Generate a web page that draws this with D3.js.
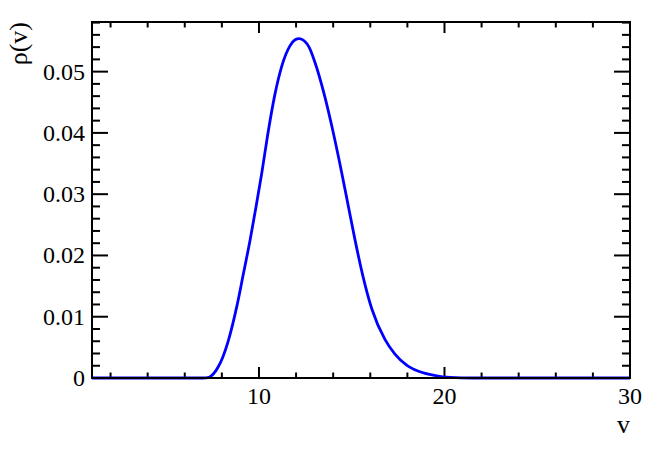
<!DOCTYPE html>
<html>
<head>
<meta charset="utf-8">
<script src="https://cdn.jsdelivr.net/npm/d3@7"></script>
<style>
  body { margin: 0; background: #fff; }
  text { font-family: "Liberation Serif", "DejaVu Serif", serif; fill: #000; }
</style>
</head>
<body>
<svg id="chart" width="664" height="450"></svg>
<script>
// curve points
var vValues   = [1, 7.0, 7.3, 7.55, 7.8, 8.05, 8.35, 8.80, 9.16, 9.52, 9.84, 10.15, 10.45, 10.84, 11.23, 11.67, 11.95, 12.17, 12.45, 12.7, 13.02, 13.56, 13.92, 14.46, 14.82, 15.18, 15.59, 16.08, 16.79, 17.33, 17.96, 18.6, 19.5, 20.3, 21.5, 30];
var rhoValues = [0, 0, 0.0001, 0.0007, 0.0018, 0.0034, 0.0061, 0.0116, 0.0170, 0.0225, 0.0279, 0.0334, 0.0393, 0.0460, 0.0509, 0.0542, 0.0552, 0.0554, 0.0550, 0.0540, 0.0515, 0.0458, 0.0412, 0.0335, 0.0280, 0.0225, 0.0168, 0.0113, 0.0063, 0.0039, 0.0021, 0.0011, 0.0004, 0.0001, 0, 0];

var xMajor = [10, 20, 30];
var yMajor = [0, 0.01, 0.02, 0.03, 0.04, 0.05];

var svg = d3.select("#chart");
var margin = {top: 22, right: 34, bottom: 72, left: 92};
var width = 664 - margin.left - margin.right;
var height = 450 - margin.top - margin.bottom;

var x = d3.scaleLinear().domain([1, 30]).range([0, width]);
var y = d3.scaleLinear().domain([0, 0.0581]).range([height, 0]);

var g = svg.append("g").attr("transform", "translate(" + margin.left + "," + margin.top + ")");

var xMinor = d3.range(2, 30.01, 2);
var yMinor = d3.range(0, 0.0581, 0.002);

// ticks on all four sides (root style)
var ticks = g.append("g").attr("stroke", "#000").attr("stroke-width", 2);
xMinor.forEach(function (v) {
    var major = xMajor.indexOf(v) >= 0;
    var len = major ? 11 : 5.5;
    ticks.append("line").attr("x1", x(v)).attr("x2", x(v)).attr("y1", height).attr("y2", height - len);
    ticks.append("line").attr("x1", x(v)).attr("x2", x(v)).attr("y1", 0).attr("y2", len);
});
yMinor.forEach(function (v, i) {
    var major = i % 5 === 0;
    var len = major ? 16 : 8;
    ticks.append("line").attr("y1", y(v)).attr("y2", y(v)).attr("x1", 0).attr("x2", len);
    ticks.append("line").attr("y1", y(v)).attr("y2", y(v)).attr("x1", width).attr("x2", width - len);
});

// the curve
var line = d3.line()
    .x(function (d) { return x(d[0]); })
    .y(function (d) { return y(d[1]); })
    .curve(d3.curveMonotoneX);

g.append("path")
    .datum(d3.zip(vValues, rhoValues))
    .attr("fill", "none")
    .attr("stroke", "#0000ff")
    .attr("stroke-width", 2.8)
    .attr("d", line);

// frame
g.append("rect")
    .attr("width", width).attr("height", height)
    .attr("fill", "none").attr("stroke", "#000").attr("stroke-width", 2);

// tick labels
g.selectAll(".xlab").data(xMajor).enter().append("text")
    .attr("x", function (d) { return x(d); })
    .attr("y", height + 26)
    .attr("text-anchor", "middle")
    .style("font-size", "24px")
    .text(function (d) { return d; });

g.selectAll(".ylab").data(yMajor).enter().append("text")
    .attr("x", -7)
    .attr("y", function (d) { return y(d) + 8; })
    .attr("text-anchor", "end")
    .style("font-size", "24px")
    .text(function (d) { return d === 0 ? "0" : d3.format(".2f")(d); });

// axis titles
g.append("text")
    .attr("x", width)
    .attr("y", height + 55)
    .attr("text-anchor", "end")
    .style("font-size", "26px")
    .text("v");

svg.append("text")
    .attr("transform", "translate(27," + margin.top + ") rotate(-90)")
    .attr("text-anchor", "end")
    .style("font-size", "26px")
    .text("ρ(v)");
</script>
</body>
</html>
